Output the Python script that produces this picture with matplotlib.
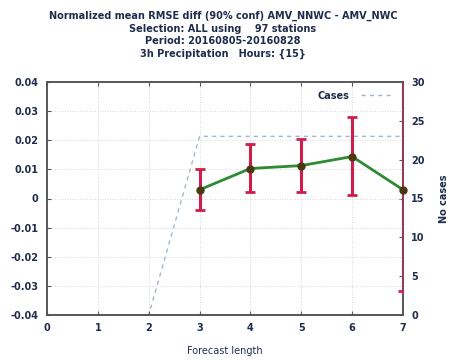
import matplotlib
matplotlib.use("Agg")
import matplotlib.pyplot as plt

# Forecast lengths and normalized RMSE difference with 90% confidence bounds
lead = [3, 4, 5, 6, 7]
rmse_diff = [0.003, 0.0103, 0.0113, 0.0144, 0.003]
ci_low = [-0.004, 0.0024, 0.0024, 0.0013, -0.0316]
ci_high = [0.010, 0.0188, 0.0205, 0.028, 0.055]

# Number of cases per forecast length
case_lead = [0, 1, 2, 3, 4, 5, 6, 7]
cases = [0, 0, 0, 23, 23, 23, 23, 23]

titles = [
    "Normalized mean RMSE diff (90% conf) AMV_NNWC - AMV_NWC",
    "Selection: ALL using    97 stations",
    "Period: 20160805-20160828",
    "3h Precipitation   Hours: {15}",
]

txt = "#1f2d4d"
fig = plt.figure(figsize=(4.55, 3.6), dpi=100)
ax = fig.add_axes([47 / 455, 45 / 360, 356 / 455, 233 / 360])
ax2 = ax.twinx()

# cases on the right axis
ax2.plot(case_lead, cases, color="#9fb6cf", lw=1.0, dashes=(3, 3), label="Cases")
ax2.set_ylim(0, 30)
ax2.set_yticks(range(0, 31, 5))

# error bars and mean line
yerr_lo = [m - l for m, l in zip(rmse_diff, ci_low)]
yerr_hi = [h - m for m, h in zip(rmse_diff, ci_high)]
ax.errorbar(lead, rmse_diff, yerr=[yerr_lo, yerr_hi], fmt="none",
            ecolor="#d01e4c", elinewidth=2.2, capsize=3.5, capthick=2.0, zorder=3)
ax.plot(lead, rmse_diff, color="#2e8b34", lw=2.0, zorder=4,
        marker="o", ms=5, mfc="#4a3a12", mec="#4a3a12", clip_on=False)

ax.set_xlim(0, 7)
ax.set_ylim(-0.04, 0.04)
ax.set_xticks(range(0, 8))
ax.set_yticks([-0.04, -0.03, -0.02, -0.01, 0, 0.01, 0.02, 0.03, 0.04])
ax.set_yticklabels(["-0.04", "-0.03", "-0.02", "-0.01", "0", "0.01", "0.02", "0.03", "0.04"])
ax.grid(True, color="#cccccc", lw=0.6, ls=(0, (1, 2)))
ax.set_zorder(ax2.get_zorder() + 1)
ax.patch.set_visible(False)

for a in (ax, ax2):
    for s in a.spines.values():
        s.set_color("#555555")
        s.set_linewidth(1.2)
    a.tick_params(direction="in", length=3, width=0.8, color="#555555",
                  labelsize=7, labelcolor=txt, pad=6)
    for lab in a.get_xticklabels() + a.get_yticklabels():
        lab.set_fontweight("bold")
ax.tick_params(axis="x", top=True)

ax.set_xlabel("Forecast length", fontsize=7, color=txt, labelpad=9)
ax2.set_ylabel("No cases", fontsize=7, color=txt, fontweight="bold", labelpad=10)

leg = ax2.legend(loc="upper right", frameon=False, fontsize=7, handlelength=3.4,
                 borderaxespad=0.5, markerfirst=False, handletextpad=1.2)
for t in leg.get_texts():
    t.set_color(txt)
    t.set_fontweight("bold")

for i, t in enumerate(titles):
    fig.text(223 / 455, 1 - (16 + 12.5 * i) / 360, t, ha="center", va="center",
             fontsize=7, color=txt, fontweight="bold")

fig.savefig("out.png", dpi=100)
